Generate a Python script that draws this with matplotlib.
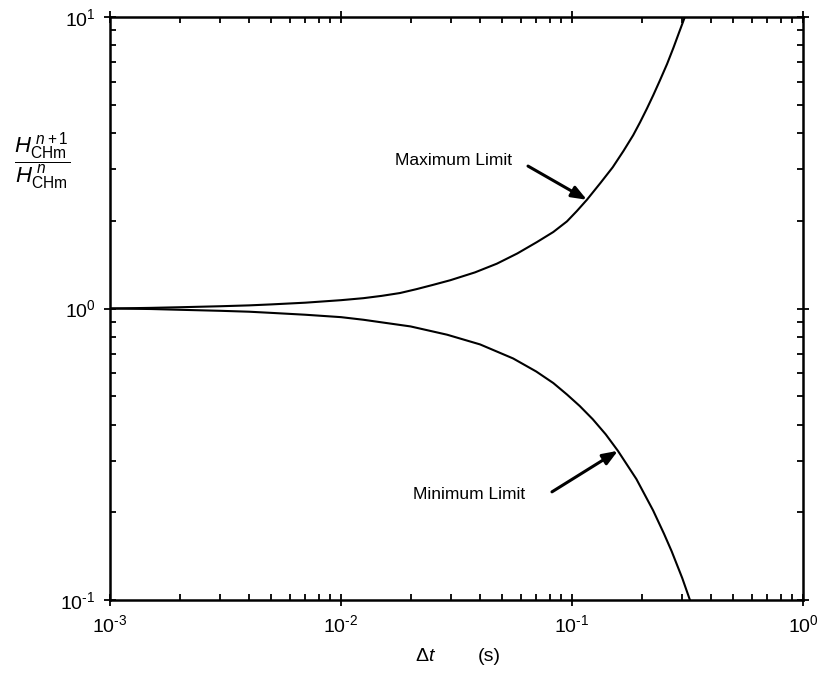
"""Stability limits of the H ratio versus time step."""

import matplotlib
matplotlib.use("Agg")
import matplotlib.pyplot as plt
from matplotlib.ticker import FuncFormatter
import numpy as np

plt.rcParams["font.family"] = ["Liberation Sans", "DejaVu Sans"]
plt.rcParams["mathtext.fontset"] = "custom"
plt.rcParams["mathtext.rm"] = "Liberation Sans"
plt.rcParams["mathtext.it"] = "Liberation Sans:italic"
plt.rcParams["axes.unicode_minus"] = False

# time step (s) and ratio H^{n+1}/H^n, upper limit
max_dt = [0.001, 0.0015, 0.002, 0.003, 0.004, 0.005, 0.007, 0.01, 0.0125,
          0.015, 0.018, 0.0212, 0.025, 0.0297, 0.038, 0.0473, 0.058, 0.0705,
          0.083, 0.0951, 0.105, 0.116, 0.133, 0.150, 0.167, 0.184, 0.197,
          0.211, 0.225, 0.240, 0.258, 0.275, 0.29, 0.308]
max_ratio = [1.0, 1.005, 1.01, 1.018, 1.025, 1.033, 1.047, 1.068, 1.085,
             1.105, 1.13, 1.165, 1.205, 1.25, 1.33, 1.425, 1.545, 1.69,
             1.83, 1.99, 2.16, 2.36, 2.7, 3.05, 3.47, 3.93, 4.35,
             4.85, 5.4, 6.05, 6.9, 7.85, 8.8, 10.0]

# lower limit
min_dt = [0.001, 0.0015, 0.002, 0.003, 0.004, 0.005, 0.007, 0.01, 0.0125,
          0.01476, 0.02, 0.0288, 0.04, 0.0556, 0.07, 0.083, 0.0951, 0.108,
          0.123, 0.14, 0.158, 0.19, 0.2244, 0.25, 0.27, 0.30, 0.324]
min_ratio = [1.0, 0.996, 0.99, 0.982, 0.975, 0.966, 0.952, 0.934, 0.915,
             0.898, 0.868, 0.813, 0.753, 0.674, 0.608, 0.555, 0.507, 0.463,
             0.417, 0.37, 0.325, 0.26, 0.203, 0.169, 0.147, 0.119, 0.1]

fig = plt.figure(figsize=(8.31, 6.79), dpi=100)
ax = fig.add_axes([0.1324, 0.1163, 0.8339, 0.8587])

ax.plot(max_dt, max_ratio, color="black", lw=1.5)
ax.plot(min_dt, min_ratio, color="black", lw=1.5)

ax.set_xscale("log")
ax.set_yscale("log")
ax.set_xlim(1e-3, 1e0)
ax.set_ylim(1e-1, 1e1)


def decade_label(val, pos):
    exp = int(round(np.log10(val)))
    sign = "\u2010" if exp < 0 else ""
    return r"$10^{%s%d}$" % (sign, abs(exp))


ax.xaxis.set_major_formatter(FuncFormatter(decade_label))
ax.yaxis.set_major_formatter(FuncFormatter(decade_label))

for side in ax.spines.values():
    side.set_linewidth(1.8)
ax.tick_params(which="both", top=True, right=True, labelsize=14, width=1.3)
ax.tick_params(which="major", direction="inout", length=9, pad=6)
ax.tick_params(which="minor", direction="in", length=4)

arrow = dict(arrowstyle="-|>,head_length=0.9,head_width=0.35", color="black", lw=2.2,
             shrinkA=0, shrinkB=0)
ax.text(0.055, 3.22, "Maximum Limit", ha="right", va="center", fontsize=12.5)
ax.annotate("", xy=(0.116, 2.36), xytext=(0.0645, 3.08), arrowprops=arrow)
ax.text(0.0627, 0.231, "Minimum Limit", ha="right", va="center", fontsize=12.5)
ax.annotate("", xy=(0.158, 0.325), xytext=(0.0819, 0.235), arrowprops=arrow)

fig.text(0.05, 0.762, r"$\dfrac{H_{\rm CHm}^{\ n+1}}{H_{\rm CHm}^{\ n}}$",
         ha="center", va="center", fontsize=16)
fig.text(0.512, 0.033, r"$\Delta t$", ha="center", va="center", fontsize=14,
         style="italic")
fig.text(0.589, 0.033, "(s)", ha="center", va="center", fontsize=14)

fig.savefig("out.png", dpi=100)
